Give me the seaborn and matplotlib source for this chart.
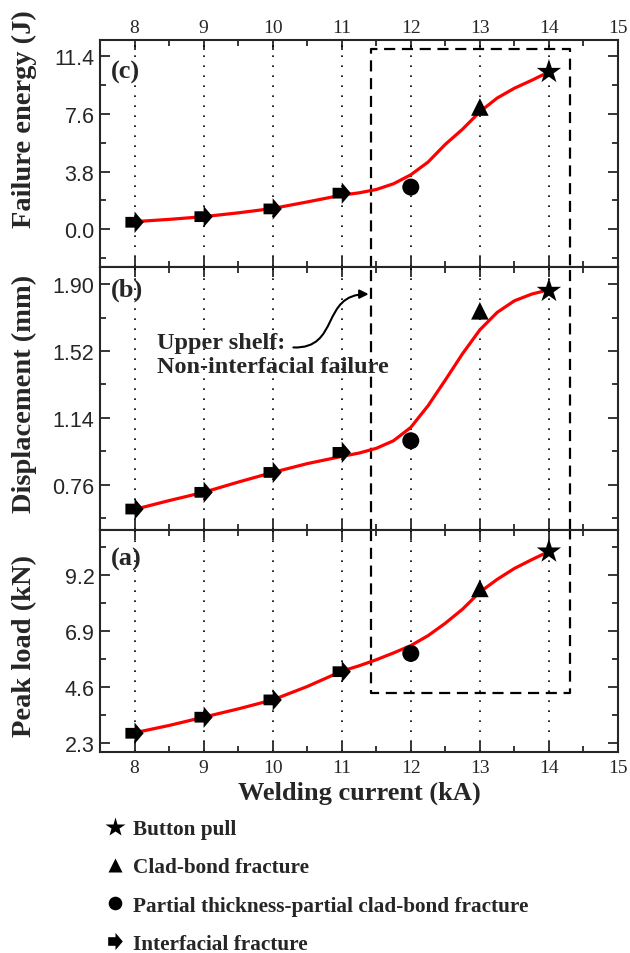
import numpy as np
import matplotlib
matplotlib.use('Agg')
import matplotlib.pyplot as plt
import seaborn as sns
from matplotlib.path import Path
from matplotlib.patches import FancyArrowPatch
from matplotlib.lines import Line2D
from matplotlib.ticker import MultipleLocator, FormatStrFormatter

# measured points (welding current in kA)
current = [8, 9, 10, 11, 12, 13, 14]
failure_mode = ['Interfacial fracture'] * 4 + ['Partial thickness-partial clad-bond fracture',
                                                'Clad-bond fracture', 'Button pull']
peak_load = [2.70, 3.36, 4.07, 5.23, 5.98, 8.65, 10.17]
displacement = [0.622, 0.717, 0.83, 0.944, 1.01, 1.748, 1.862]
failure_energy = [0.46, 0.83, 1.34, 2.38, 2.78, 8.06, 10.38]

# red fitted curve
fit_current = [8, 8.5, 9, 9.5, 10, 10.5, 11, 11.25, 11.5, 11.75, 12, 12.25, 12.5, 12.75, 13,
               13.25, 13.5, 13.75, 14]
fit_peak_load = [2.72, 3.02, 3.36, 3.70, 4.07, 4.62, 5.25, 5.47, 5.72, 6.00, 6.30, 6.71, 7.22, 7.80, 8.50,
                 9.02, 9.47, 9.83, 10.17]
fit_displacement = [0.62, 0.67, 0.717, 0.775, 0.83, 0.88, 0.921, 0.94, 0.967, 1.01, 1.086, 1.209, 1.355,
                    1.505, 1.64, 1.739, 1.805, 1.843, 1.868]
fit_failure_energy = [0.50, 0.65, 0.83, 1.08, 1.37, 1.80, 2.25, 2.40, 2.62, 3.00, 3.59, 4.43, 5.60, 6.60,
                      7.75, 8.65, 9.30, 9.82, 10.38]

SERIF = 'Liberation Serif'
SANS = 'Liberation Sans'

sns.set_style('ticks')
plt.rcParams['font.family'] = [SERIF, 'DejaVu Serif']
plt.rcParams['axes.linewidth'] = 1.5

# fat right arrow marker used for interfacial fracture
arrow_marker = Path([(-0.85, -0.5), (0, -0.5), (0, -1), (0.85, 0), (0, 1), (0, 0.5), (-0.85, 0.5), (-0.85, -0.5)],
                    [Path.MOVETO] + [Path.LINETO] * 6 + [Path.CLOSEPOLY])
markers = {'Button pull': ('*', 340),
           'Clad-bond fracture': ('^', 160),
           'Partial thickness-partial clad-bond fracture': ('o', 150),
           'Interfacial fracture': (arrow_marker, 240)}

fig = plt.figure(figsize=(6.3, 9.54), dpi=100)
L, W = 100 / 630, 518 / 630
ax_c = fig.add_axes([L, 1 - 268 / 954, W, 227 / 954])
ax_b = fig.add_axes([L, 1 - 531 / 954, W, 263 / 954])
ax_a = fig.add_axes([L, 1 - 753 / 954, W, 222 / 954])

panels = [
    (ax_c, failure_energy, fit_failure_energy, 'Failure energy (J)', (-2.49, 12.48), 3.8, '%.1f', '(c)', 10.4, 0.655),
    (ax_b, displacement, fit_displacement, 'Displacement (mm)', (0.503, 1.997), 0.38, '%.2f', '(b)', 1.872, 0.52),
    (ax_a, peak_load, fit_peak_load, 'Peak load (kN)', (1.93, 11.05), 2.3, '%.1f', '(a)', 9.9, 0.48),
]

box_left, box_right = 11.43, 14.30
box_top_c, box_bottom_a = 11.87, 4.34

for ax, vals, fit, ylabel, ylim, step, fmt, tag, tag_y, lab_y in panels:
    for x in current:
        ax.axvline(x, color='black', ls=(0, (1, 5)), lw=1.2, zorder=1)
    sns.lineplot(x=fit_current, y=fit, ax=ax, color='red', lw=2.3, sort=False, zorder=2)
    for mode in markers:
        xs = [c for c, m in zip(current, failure_mode) if m == mode]
        ys = [v for v, m in zip(vals, failure_mode) if m == mode]
        mk, size = markers[mode]
        sns.scatterplot(x=xs, y=ys, ax=ax, marker=mk, s=size, color='black', edgecolor='none',
                        zorder=3, legend=False)
    ax.set_xlim(7.5, 15)
    ax.set_ylim(*ylim)
    ax.xaxis.set_major_locator(MultipleLocator(1))
    ax.xaxis.set_minor_locator(MultipleLocator(0.5))
    ax.yaxis.set_major_locator(MultipleLocator(step))
    ax.yaxis.set_minor_locator(MultipleLocator(step / 2))
    ax.yaxis.set_major_formatter(FormatStrFormatter(fmt))
    ax.tick_params(which='both', direction='in', top=True, right=True, bottom=True, left=True,
                   width=1.3, labeltop=False, labelbottom=False)
    ax.tick_params(which='major', length=7)
    ax.tick_params(which='minor', length=4.5)
    ax.tick_params(axis='y', labelsize=15.5, pad=4)
    ax.tick_params(axis='x', labelsize=14, pad=5)
    ax.set_ylabel(ylabel, fontsize=20.5, fontweight='bold')
    ax.yaxis.set_label_coords(-0.122, lab_y)
    ax.set_xlabel('')
    ax.text(7.66, tag_y, tag, fontsize=19, fontweight='bold', va='center', ha='left')
    for lab in ax.get_yticklabels():
        lab.set_fontfamily(SANS)
    for s in ax.spines.values():
        s.set_visible(True)
        s.set_linewidth(1.5)

ax_c.tick_params(axis='x', labeltop=True, pad=3)
ax_a.tick_params(axis='x', labelbottom=True)
ax_a.set_xlabel('Welding current (kA)', fontsize=19, fontweight='bold', labelpad=3.5)

# dashed "upper shelf" box spanning all three panels
dash = dict(color='black', lw=1.6, ls=(0, (5, 3)), zorder=1.5, clip_on=False)
y0c = ax_c.get_ylim()[0]
ax_c.plot([box_left, box_left, box_right, box_right], [y0c, box_top_c, box_top_c, y0c], **dash)
ax_b.axvline(box_left, **dash)
ax_b.axvline(box_right, **dash)
y1a = ax_a.get_ylim()[1]
ax_a.plot([box_left, box_left, box_right, box_right], [y1a, box_bottom_a, box_bottom_a, y1a], **dash)

ax_b.text(8.33, 1.500, 'Upper shelf:\nNon-interfacial failure', fontsize=17.5, fontweight='bold',
          ha='left', va='center', linespacing=1.18, zorder=4)
curve = Path([(10.30, 1.540), (10.98, 1.531), (10.69, 1.843), (11.39, 1.843)],
             [Path.MOVETO, Path.CURVE4, Path.CURVE4, Path.CURVE4])
ax_b.add_patch(FancyArrowPatch(path=curve, arrowstyle='-|>', mutation_scale=13, lw=1.5,
                               color='black', transform=ax_b.transData, zorder=4))

handles = []
for mode in ['Button pull', 'Clad-bond fracture', 'Partial thickness-partial clad-bond fracture',
             'Interfacial fracture']:
    mk, size = markers[mode]
    handles.append(Line2D([], [], ls='none', marker=mk, color='black', markeredgecolor='none',
                          markersize=np.sqrt(size) * 0.8, label=mode))
fig.legend(handles=handles, loc='upper left', bbox_to_anchor=(104 / 630, 1 - 820 / 954), frameon=False,
           prop={'family': SERIF, 'weight': 'bold', 'size': 15.3}, handlelength=1.0, handletextpad=0.35,
           labelspacing=0.86, borderpad=0, borderaxespad=0)

fig.savefig('out.png', dpi=100)
